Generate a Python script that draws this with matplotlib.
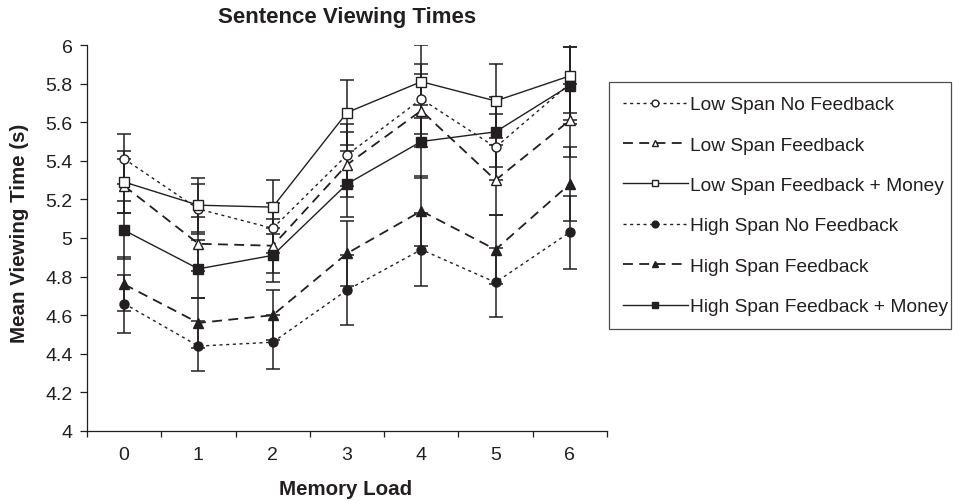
import numpy as np
import matplotlib
matplotlib.use('Agg')
from matplotlib import pyplot as plt

plt.rcParams['font.family'] = ['Liberation Sans', 'DejaVu Sans']

# memory load 0..6
load = [0, 1, 2, 3, 4, 5, 6]
xlabels = ['0', '1', '2', '3', '4', '5', '6']

# mean viewing time (s)
ls_nofb = [5.41, 5.15, 5.05, 5.43, 5.72, 5.47, 5.80]
ls_fb = [5.27, 4.97, 4.96, 5.38, 5.66, 5.30, 5.61]
ls_fbm = [5.29, 5.17, 5.16, 5.65, 5.81, 5.71, 5.84]
hs_nofb = [4.66, 4.44, 4.46, 4.73, 4.94, 4.77, 5.03]
hs_fb = [4.76, 4.56, 4.60, 4.92, 5.14, 4.94, 5.28]
hs_fbm = [5.04, 4.84, 4.91, 5.28, 5.50, 5.55, 5.79]

# error bars
ls_nofb_err = [0.13, 0.13, 0.13, 0.16, 0.18, 0.17, 0.19]
ls_fb_err = [0.14, 0.14, 0.14, 0.17, 0.19, 0.18, 0.19]
ls_fbm_err = [0.16, 0.14, 0.14, 0.17, 0.19, 0.19, 0.19]
hs_nofb_err = [0.15, 0.13, 0.14, 0.18, 0.19, 0.18, 0.19]
hs_fb_err = [0.14, 0.13, 0.13, 0.17, 0.18, 0.18, 0.19]
hs_fbm_err = [0.15, 0.15, 0.14, 0.17, 0.19, 0.18, 0.20]

names = ['Low Span No Feedback', 'Low Span Feedback', 'Low Span Feedback + Money',
         'High Span No Feedback', 'High Span Feedback', 'High Span Feedback + Money']

ink = '#231f20'
W, H = 954, 502
fig = plt.figure(figsize=(W / 100, H / 100), dpi=100)
ax = fig.add_axes([87 / W, 1 - 432 / H, (607 - 87) / W, (432 - 46) / H])

short = (0, (2.2, 2.6))
long = (0, (5.5, 3.5))
styles = [
    (ls_nofb, ls_nofb_err, short, 'o', 'white', 1.0),
    (ls_fb, ls_fb_err, long, '^', 'white', 1.3),
    (ls_fbm, ls_fbm_err, '-', 's', 'white', 1.0),
    (hs_nofb, hs_nofb_err, short, 'o', ink, 1.0),
    (hs_fb, hs_fb_err, long, '^', ink, 1.3),
    (hs_fbm, hs_fbm_err, '-', 's', ink, 1.0),
]

handles = []
for (vals, err, ls, mk, fc, lw), name in zip(styles, names):
    ax.errorbar(load, vals, yerr=err, fmt='none', ecolor=ink, elinewidth=1.1,
                capsize=5, capthick=1.1, zorder=2)
    h, = ax.plot(load, vals, linestyle=ls, color=ink, linewidth=lw, marker=mk,
                 markersize=6.5, markerfacecolor=fc, markeredgecolor=ink,
                 markeredgewidth=1.0, label=name, zorder=3)
    handles.append(h)

ax.set_xlim(-0.5, 6.5)
ax.set_ylim(4, 6)
ax.set_yticks(np.arange(4, 6.01, 0.2))
ax.set_yticklabels(['4', '4.2', '4.4', '4.6', '4.8', '5', '5.2', '5.4', '5.6', '5.8', '6'])
ax.set_xticks(load)
ax.set_xticklabels(xlabels)
ax.set_xticks(np.arange(-0.5, 6.6, 1), minor=True)
ax.tick_params(axis='x', which='major', length=0, pad=11, labelsize=14, colors=ink)
ax.tick_params(axis='x', which='minor', length=4, width=0.9, direction='out', color=ink)
ax.tick_params(axis='y', length=5, width=0.9, direction='out', pad=5.5, labelsize=14,
               colors=ink)
for s in ['top', 'right']:
    ax.spines[s].set_visible(False)
for s in ['left', 'bottom']:
    ax.spines[s].set_linewidth(0.9)
    ax.spines[s].set_color(ink)

fig.text(347 / W, 1 - 18 / H, 'Sentence Viewing Times', ha='center', va='center',
         fontsize=16, fontweight='bold', color=ink)
fig.text(346 / W, 1 - 490 / H, 'Memory Load', ha='center', va='center',
         fontsize=14.8, fontweight='bold', color=ink)
fig.text(20 / W, 1 - 233 / H, 'Mean Viewing Time (s)', ha='center', va='center',
         rotation=90, fontsize=14.8, fontweight='bold', color=ink)

# legend box spans x 609..950, y 83..329 (pixels from top)
leg = fig.legend(handles=handles, loc='upper left',
                 bbox_to_anchor=(609 / W, 1 - 329 / H, (951 - 609) / W, (329 - 83) / H),
                 mode='expand', fontsize=13.8, frameon=True, fancybox=False,
                 handlelength=3.4, handletextpad=0.1, borderpad=0.72,
                 labelspacing=1.2, borderaxespad=0, markerscale=0.75)
leg.get_frame().set_edgecolor(ink)
leg.get_frame().set_linewidth(0.9)
for t in leg.get_texts():
    t.set_color(ink)

plt.savefig('out.png', dpi=100)
